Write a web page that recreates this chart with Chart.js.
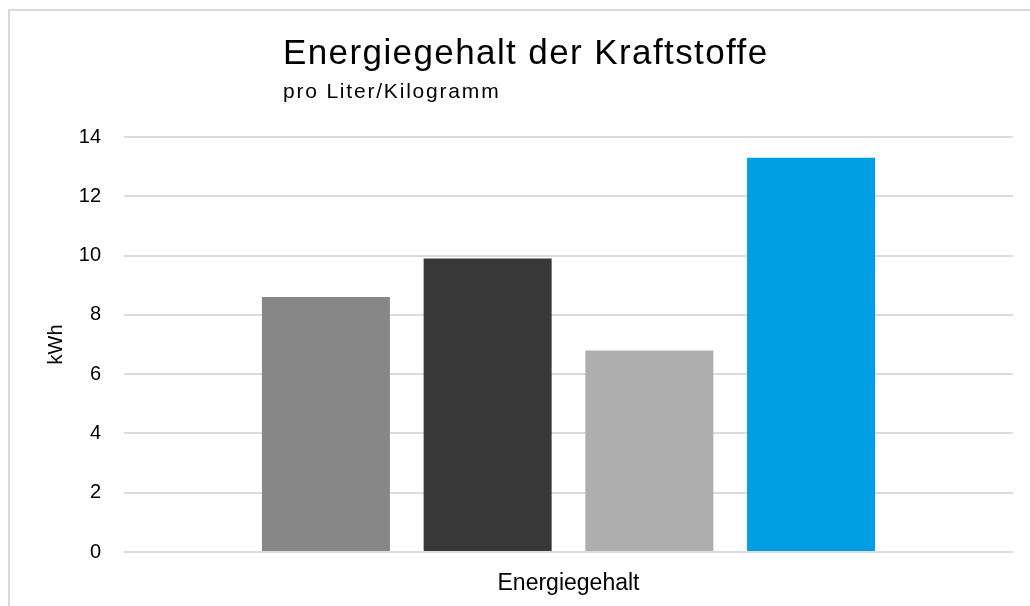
<!DOCTYPE html>
<html>
<head>
<meta charset="utf-8">
<script src="https://cdn.jsdelivr.net/npm/chart.js@4"></script>
<style>
  html, body { margin: 0; padding: 0; background: #fff; overflow: hidden; }
  #frame { position: absolute; left: 8px; top: 9px; width: 1100px; height: 700px; border: 2px solid #d9d9d9; }
  #wrap { position: absolute; left: 0; top: 0; width: 1030px; height: 606px; }
</style>
</head>
<body>
<div id="frame"></div>
<div id="wrap"><canvas id="chart"></canvas></div>
<script>
// Daten
const categories = ['Energiegehalt'];
const fuels = ['Benzin', 'Diesel', 'Autogas (LPG)', 'Erdgas (CNG)'];
const values = [8.6, 9.9, 6.8, 13.3];
const colors = ['#878787', '#383838', '#aeaeae', '#009fe3'];
const yTicks = [0, 2, 4, 6, 8, 10, 12, 14];

const titleText = 'Energiegehalt der Kraftstoffe';
const subtitleText = 'pro Liter/Kilogramm';
const fontFamily = '"Liberation Sans", Arial, Helvetica, sans-serif';

// Titel links bündig wie im Original
const titlePlugin = {
  id: 'leftTitle',
  afterDraw(chart) {
    const ctx = chart.ctx;
    ctx.save();
    ctx.fillStyle = '#000';
    ctx.textAlign = 'left';
    ctx.textBaseline = 'alphabetic';
    ctx.font = '35px ' + fontFamily;
    ctx.letterSpacing = '1.4px';
    ctx.fillText(titleText, 283, 64);
    ctx.font = '21px ' + fontFamily;
    ctx.letterSpacing = '1.8px';
    ctx.fillText(subtitleText, 283, 98);
    ctx.restore();
  }
};

const datasets = fuels.map((name, i) => ({
  label: name,
  data: [values[i]],
  backgroundColor: colors[i],
  borderWidth: 0
}));

new Chart(document.getElementById('chart'), {
  type: 'bar',
  data: { labels: categories, datasets },
  plugins: [titlePlugin],
  options: {
    responsive: true,
    maintainAspectRatio: false,
    animation: false,
    categoryPercentage: 0.7276,
    barPercentage: 0.7916,
    layout: { padding: { left: 0, right: 17, top: 137, bottom: 0 } },
    plugins: {
      legend: { display: false },
      tooltip: { enabled: false }
    },
    scales: {
      x: {
        grid: { display: false, drawTicks: false },
        border: { display: false },
        ticks: { color: '#000', padding: 18, font: { family: fontFamily, size: 23 } },
        afterFit(s) { s.height = 54; }
      },
      y: {
        min: 0,
        max: 14,
        afterBuildTicks(s) { s.ticks = yTicks.map(v => ({ value: v })); },
        grid: { color: '#dcdcdc', lineWidth: 2, drawTicks: false },
        border: { display: false },
        ticks: { color: '#000', padding: 23, font: { family: fontFamily, size: 20 } },
        title: {
          display: true,
          text: 'kWh',
          color: '#000',
          padding: { top: 44, bottom: 0 },
          font: { family: fontFamily, size: 20 }
        },
        afterFit(s) { s.width = 124; }
      }
    }
  }
});
</script>
</body>
</html>
